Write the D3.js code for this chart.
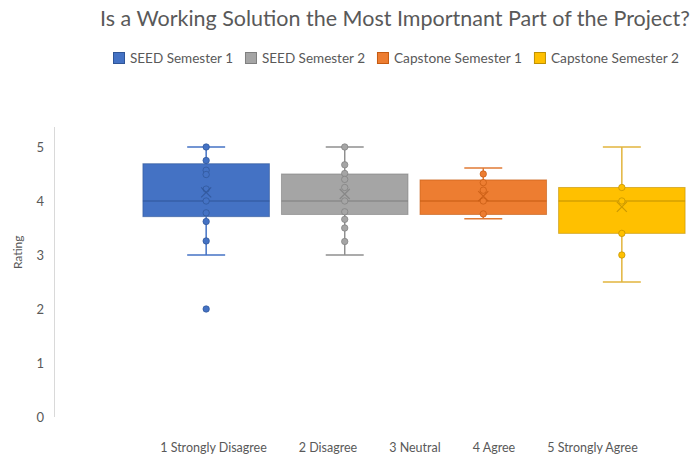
<!DOCTYPE html>
<html>
<head>
<meta charset="utf-8">
<script src="https://cdn.jsdelivr.net/npm/d3@7"></script>
<style>
  html, body { margin: 0; padding: 0; background: #fff; }
  svg { display: block; font-family: Lato, "Open Sans", sans-serif; }
</style>
</head>
<body>
<svg id="chart" width="691" height="458"></svg>
<script>
// ---------- data ----------
const title = "Is a Working Solution the Most Importnant Part of the Project?";
const yAxisTitle = "Rating";
const xLabelParts = ["1 Strongly Disagree", "2 Disagree", "3 Neutral", "4 Agree", "5 Strongly Agree"];
const categories = [xLabelParts.join(" ")];
const seriesNames = ["SEED Semester 1", "SEED Semester 2", "Capstone Semester 1", "Capstone Semester 2"];
const yTicks = [0, 1, 2, 3, 4, 5];

const whiskerLow  = [3.0, 3.0, 3.67, 2.5];
const q1          = [3.71, 3.75, 3.75, 3.4];
const medians     = [4.0, 4.0, 4.0, 4.0];
const q3          = [4.69, 4.5, 4.39, 4.25];
const whiskerHigh = [5.0, 5.0, 4.61, 5.0];
const means       = [4.16, 4.13, 4.09, 3.89];
const innerPoints = [
  [5, 4.75, 4.57, 4.49, 4.22, 4.0, 3.78, 3.62, 3.26],
  [5, 4.67, 4.51, 4.4, 4.25, 4.0, 3.8, 3.66, 3.5, 3.25],
  [4.5, 4.34, 4.2, 4.0, 3.76],
  [4.25, 4.0, 3.4, 3.0]
];
const outliers = [[2], [], [], []];

// ---------- styles ----------
const fills   = ["#4472C4", "#A5A5A5", "#ED7D31", "#FFC000"];
const strokes = ["#2F5597", "#7F7F7F", "#C55A11", "#BF9000"];
const whiskerColors = ["#4472C4", "#8F8F8F", "#E07A35", "#E2B43C"];
const textColor = "#595959";

const svg = d3.select("#chart");

function fitText(sel, target) {
  const node = sel.node();
  const base = parseFloat(sel.attr("font-size"));
  const w = node.getComputedTextLength();
  sel.attr("font-size", (base * target / w).toFixed(2));
}

// ---------- scales ----------
const plotTop = 127, plotBottom = 417, plotLeft = 54, plotRight = 774;
const y = d3.scaleLinear().domain([0, 5.37]).range([plotBottom, plotTop]);
const x = d3.scaleBand().domain(categories).range([plotLeft, plotRight]).paddingInner(0).paddingOuter(0.164);
const xs = d3.scaleBand().domain(seriesNames).range([0, x.bandwidth()]).paddingInner(0.087).paddingOuter(0);

// ---------- title ----------
const t = svg.append("text").attr("x", 100).attr("y", 26)
  .attr("font-size", 20).attr("fill", textColor).text(title);
fitText(t, 590);

// ---------- legend ----------
let lx = 113;
seriesNames.forEach((name, i) => {
  const g = svg.append("g").attr("transform", `translate(${lx},52)`);
  g.append("rect").attr("x", 0.5).attr("y", 0.5).attr("width", 11).attr("height", 11)
    .attr("fill", fills[i]).attr("stroke", strokes[i]).attr("stroke-width", 1);
  const tx = g.append("text").attr("x", 17).attr("y", 10.5).attr("font-size", 13)
    .attr("fill", textColor).text(name);
  fitText(tx, i < 2 ? 103 : 128);
  lx += 17 + tx.node().getComputedTextLength() + 12;
});

// ---------- y axis ----------
const yAxis = svg.append("g").attr("transform", `translate(${plotLeft},0)`)
  .call(d3.axisLeft(y).tickValues(yTicks).tickSize(0).tickPadding(10).tickFormat(d3.format("d")));
yAxis.select(".domain").attr("stroke", "#D9D9D9").attr("stroke-width", 1)
  .attr("d", `M0.5,${y.range()[0]}V${y.range()[1]}`);
yAxis.selectAll(".tick text").attr("fill", textColor).attr("font-size", 13)
  .attr("font-family", "Lato, 'Open Sans', sans-serif");

svg.append("text").attr("transform", `translate(22,${y(3.05)}) rotate(-90)`)
  .attr("text-anchor", "middle").attr("font-size", 12).attr("fill", textColor).text(yAxisTitle);

// ---------- x axis label ----------
const xAxis = svg.append("g").attr("transform", `translate(0,${plotBottom})`)
  .call(d3.axisBottom(x).tickSize(0).tickPadding(0));
xAxis.select(".domain").remove();
xAxis.selectAll(".tick text").each(function () {
  const txt = d3.select(this);
  txt.text(null).attr("y", 35).attr("dy", 0).attr("font-size", 12.5).attr("fill", textColor)
    .attr("font-family", "Lato, 'Open Sans', sans-serif").attr("text-anchor", "start");
  xLabelParts.forEach((p, i) => {
    txt.append("tspan").attr("dx", i === 0 ? 0 : 32).text(p);
  });
  const total = this.getComputedTextLength() + 32 * (xLabelParts.length - 1);
  txt.attr("x", -total / 2 - 15);
});

// ---------- boxes ----------
const cat = categories[0];
seriesNames.forEach((name, i) => {
  const g = svg.append("g").attr("transform", `translate(${x(cat) + xs(name)},0)`);
  const w = xs.bandwidth();
  const cx = w / 2;
  const capW = w * 0.3;
  // whiskers
  g.append("line").attr("x1", cx).attr("x2", cx).attr("y1", y(whiskerHigh[i])).attr("y2", y(q3[i]))
    .attr("stroke", whiskerColors[i]).attr("stroke-width", 1.5);
  g.append("line").attr("x1", cx).attr("x2", cx).attr("y1", y(q1[i])).attr("y2", y(whiskerLow[i]))
    .attr("stroke", whiskerColors[i]).attr("stroke-width", 1.5);
  [whiskerHigh[i], whiskerLow[i]].forEach(v => {
    g.append("line").attr("x1", cx - capW / 2).attr("x2", cx + capW / 2).attr("y1", y(v)).attr("y2", y(v))
      .attr("stroke", whiskerColors[i]).attr("stroke-width", 1.5);
  });
  // box
  g.append("rect").attr("x", 0).attr("y", y(q3[i])).attr("width", w).attr("height", y(q1[i]) - y(q3[i]))
    .attr("fill", fills[i]).attr("stroke", strokes[i]).attr("stroke-opacity", 0.6).attr("stroke-width", 1);
  g.append("line").attr("x1", 0).attr("x2", w).attr("y1", y(medians[i])).attr("y2", y(medians[i]))
    .attr("stroke", strokes[i]).attr("stroke-width", 1.2);
  // points
  innerPoints[i].concat(outliers[i]).forEach(v => {
    g.append("circle").attr("cx", cx).attr("cy", y(v)).attr("r", 3.2)
      .attr("fill", fills[i]).attr("stroke", strokes[i]).attr("stroke-opacity", 0.7).attr("stroke-width", 1);
  });
  // mean marker
  const m = y(means[i]), s = 5;
  g.append("path").attr("d", `M${cx - s},${m - s}L${cx + s},${m + s}M${cx - s},${m + s}L${cx + s},${m - s}`)
    .attr("stroke", strokes[i]).attr("stroke-opacity", 0.8).attr("stroke-width", 1.2).attr("fill", "none");
});
</script>
</body>
</html>
